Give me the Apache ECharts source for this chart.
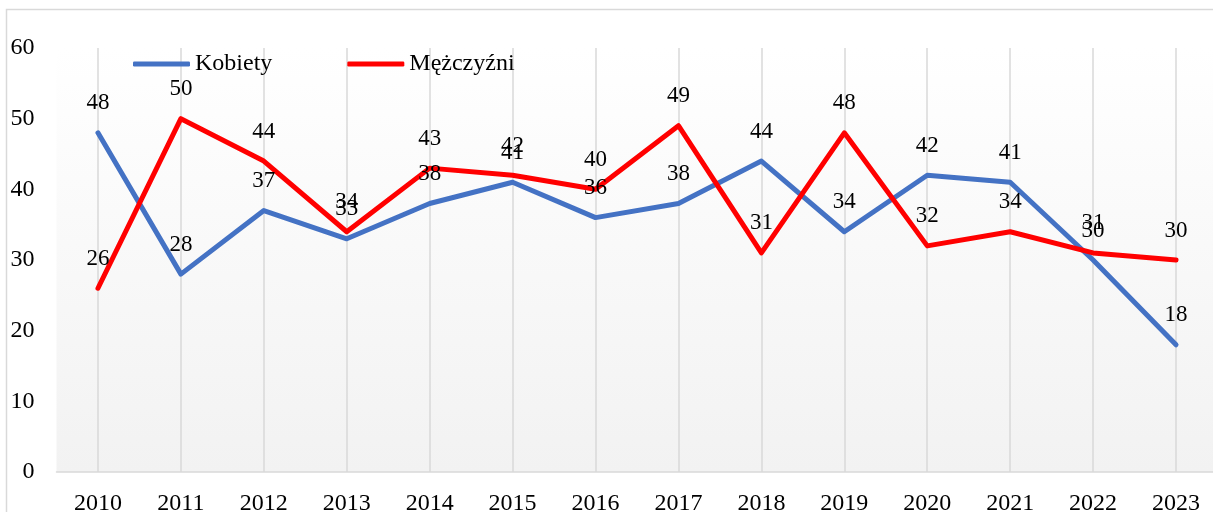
<!DOCTYPE html>
<html>
<head>
<meta charset="utf-8">
<script src="https://cdn.jsdelivr.net/npm/echarts@6/dist/echarts.min.js"></script>
<style>
  html, body { margin: 0; padding: 0; background: #fff; }
  #chart { width: 1213px; height: 512px; }
</style>
</head>
<body>
<div id="chart"></div>
<script>
const years = ['2010', '2011', '2012', '2013', '2014', '2015', '2016', '2017', '2018', '2019', '2020', '2021', '2022', '2023']
const kobiety = [48, 28, 37, 33, 38, 41, 36, 38, 44, 34, 42, 41, 30, 18]
const mezczyzni = [26, 50, 44, 34, 43, 42, 40, 49, 31, 48, 32, 34, 31, 30]

const font = '"Liberation Serif", "Times New Roman", serif'

const chart = echarts.init(document.getElementById('chart'))

const lineSeries = (name, data, color) => ({
  name,
  type: 'line',
  data,
  symbol: 'circle',
  symbolSize: 2,
  lineStyle: { color, width: 5, cap: 'round', join: 'round' },
  itemStyle: { color },
  label: {
    show: true,
    position: 'top',
    distance: 17,
    color: '#000',
    fontFamily: font,
    fontSize: 23
  },
  emphasis: { disabled: true },
  animation: false
})

chart.setOption({
  backgroundColor: '#fff',
  graphic: [
    {
      type: 'rect',
      shape: { x: 6.5, y: 9.5, width: 1230, height: 530 },
      style: { fill: 'none', stroke: '#d9d9d9', lineWidth: 1.5 },
      z: -10
    }
  ],
  legend: {
    left: 128,
    top: 47,
    itemWidth: 57,
    itemHeight: 5,
    itemGap: 75,
    icon: 'roundRect',
    textStyle: { fontFamily: font, fontSize: 24, color: '#000' },
    data: ['Kobiety', 'Mężczyźni']
  },
  grid: {
    left: 56.5,
    right: -4.5,
    top: 48,
    bottom: 40,
    outerBoundsMode: 'none',
    containLabel: false,
    show: true,
    borderWidth: 0,
    backgroundColor: new echarts.graphic.LinearGradient(0, 0, 0, 1, [
      { offset: 0, color: '#ffffff' },
      { offset: 1, color: '#f2f2f2' }
    ])
  },
  xAxis: {
    type: 'category',
    data: years,
    boundaryGap: true,
    axisLine: { lineStyle: { color: '#d9d9d9', width: 1.5 } },
    axisTick: { show: false, alignWithLabel: true },
    axisLabel: { color: '#000', fontFamily: font, fontSize: 24, margin: 20 },
    splitLine: { show: true, alignWithLabel: true, lineStyle: { color: '#d9d9d9', width: 1.5 } }
  },
  yAxis: {
    type: 'value',
    min: 0,
    max: 60,
    interval: 10,
    axisLine: { show: false },
    axisTick: { show: false },
    splitLine: { show: false },
    axisLabel: { color: '#000', fontFamily: font, fontSize: 24, margin: 22 }
  },
  series: [
    lineSeries('Kobiety', kobiety, '#4472c4'),
    lineSeries('Mężczyźni', mezczyzni, '#ff0000')
  ]
})
</script>
</body>
</html>
